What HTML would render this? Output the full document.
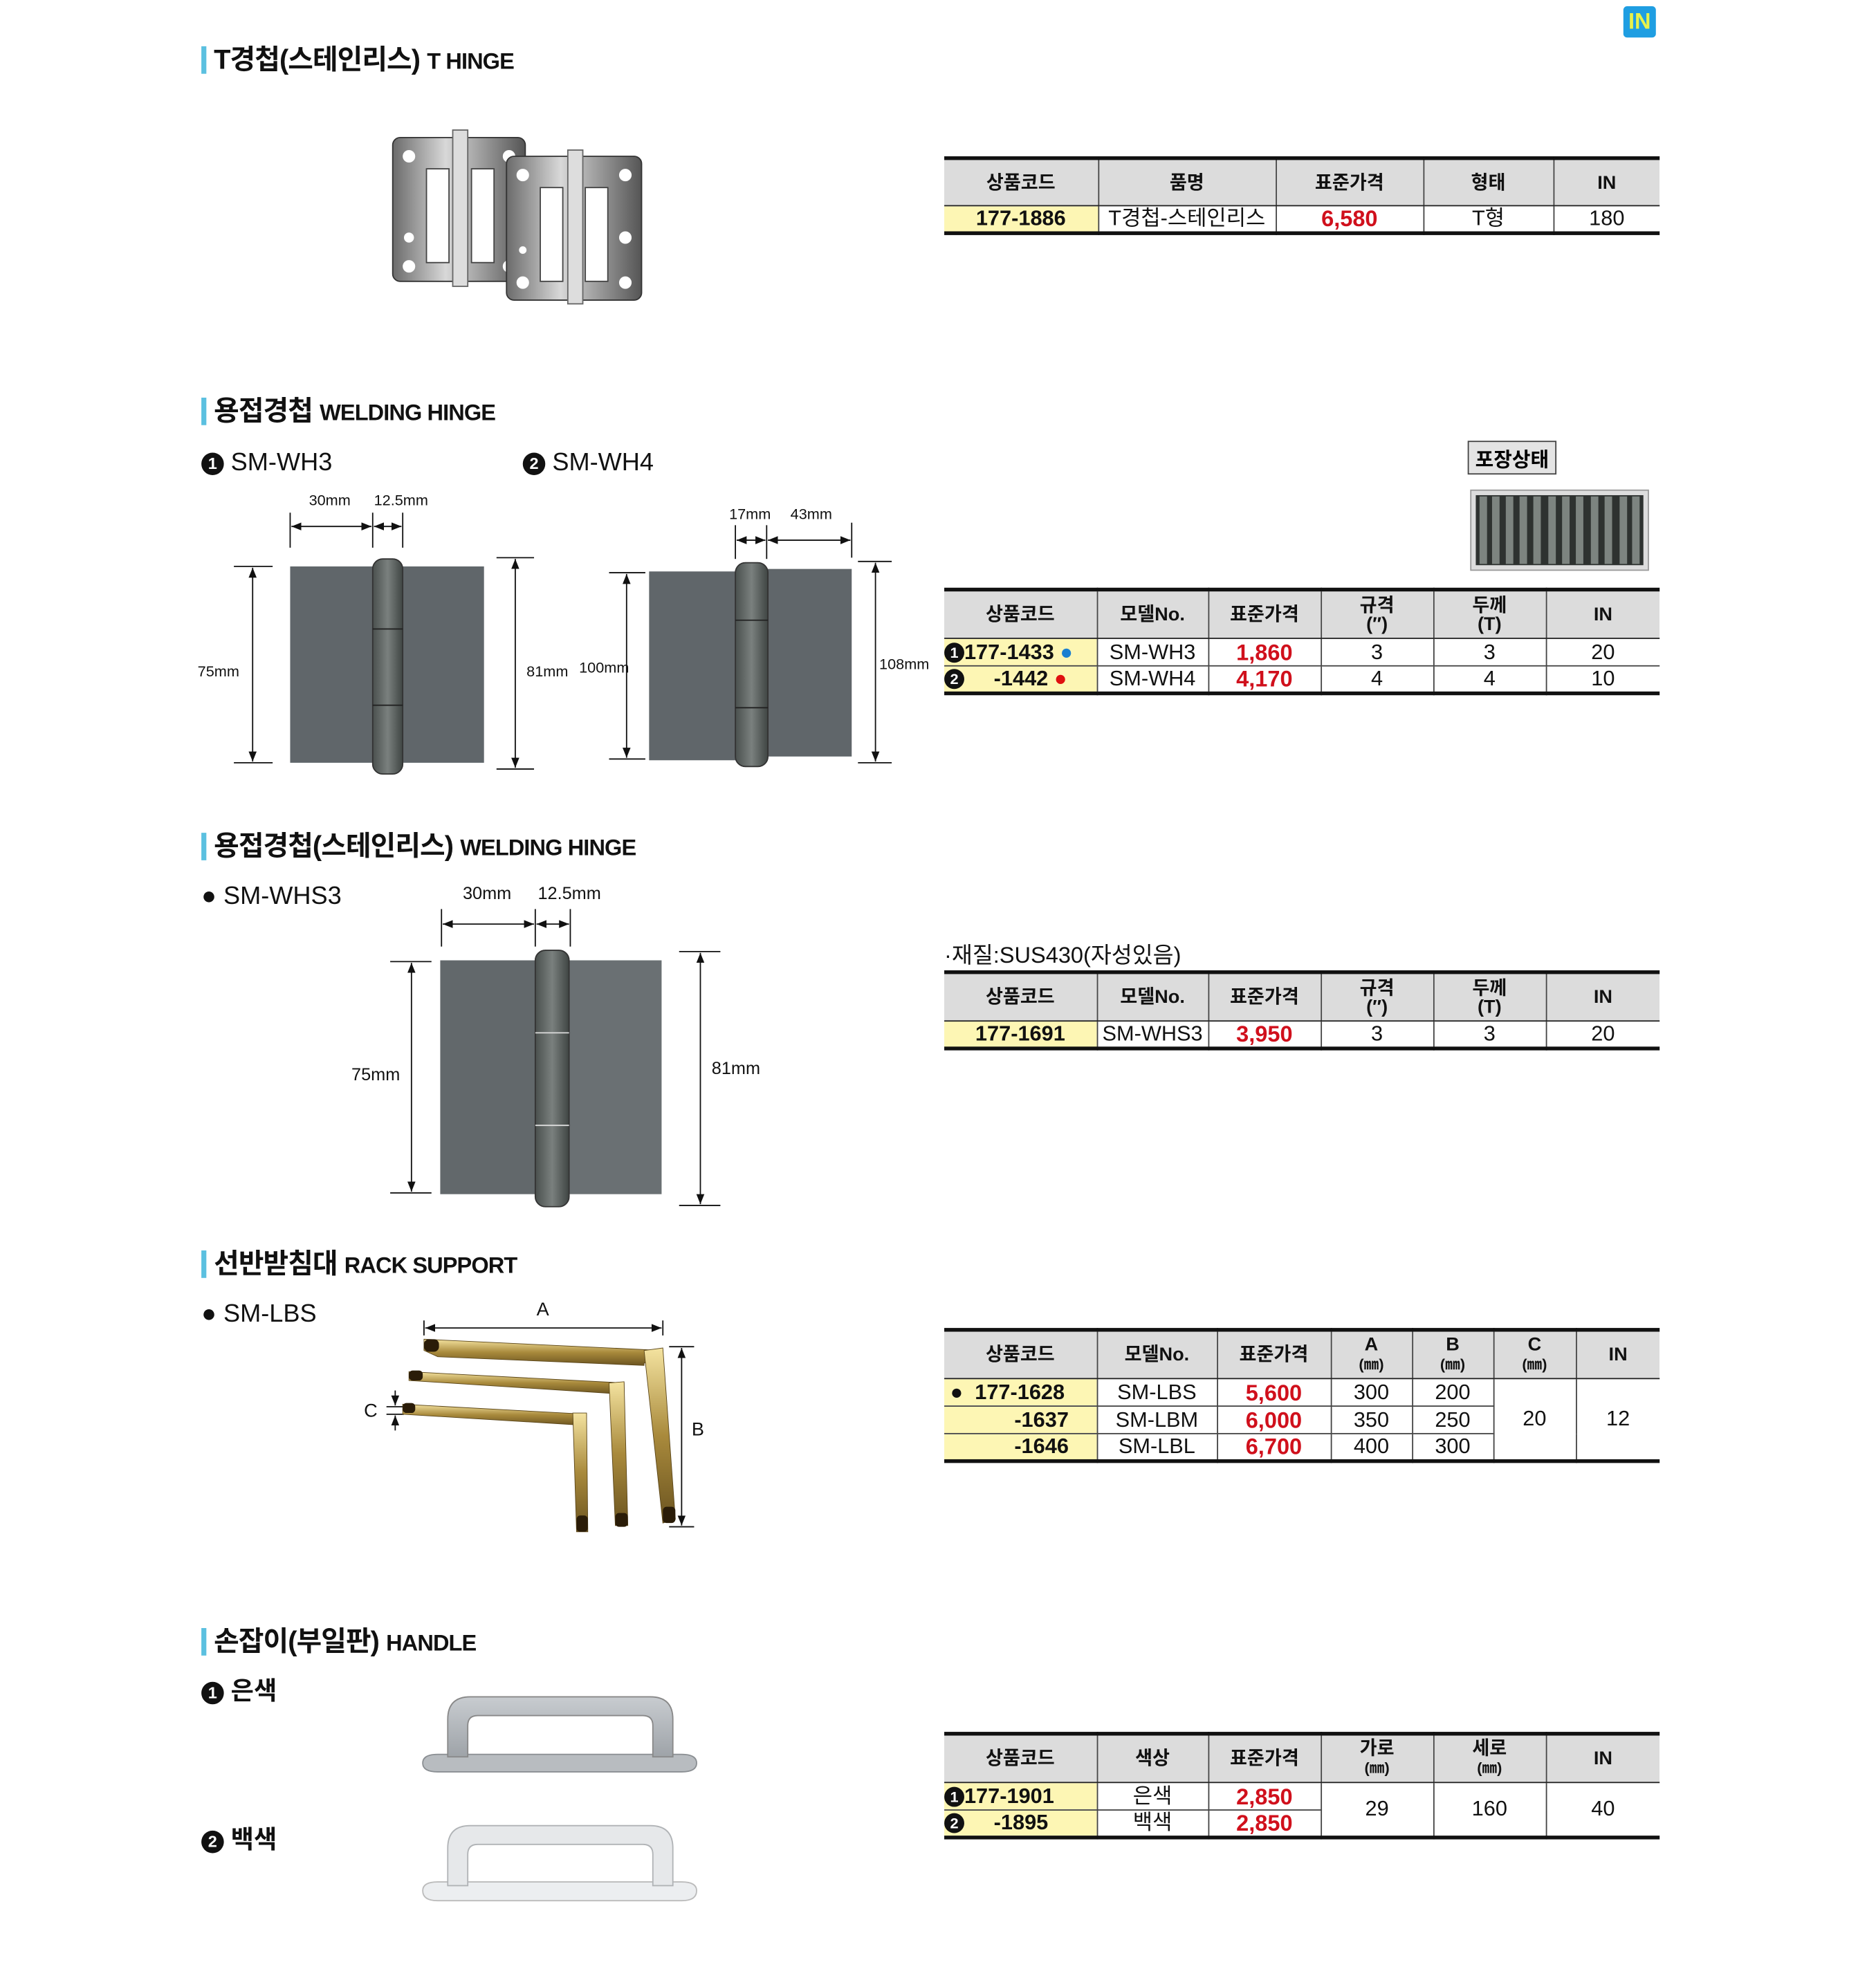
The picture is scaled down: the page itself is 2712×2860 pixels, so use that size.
<!DOCTYPE html>
<html><head><meta charset="utf-8">
<style>
html,body{margin:0;padding:0;background:#fff;}
body{width:2712px;height:2860px;overflow:hidden;position:relative;}
#w{position:absolute;left:0;top:0;width:1500px;height:1582px;transform:scale(1.808);transform-origin:0 0;font-family:"Liberation Sans","Noto Sans CJK KR",sans-serif;color:#111;}
.a{position:absolute;white-space:nowrap;}
.bar{position:absolute;width:4px;height:22px;background:#5bc0e0;}
.tt{position:absolute;font-weight:bold;font-size:22px;letter-spacing:-0.5px;line-height:26px;}
.tt span{font-size:18px;font-weight:bold;}
.sub{position:absolute;font-size:20px;line-height:24px;}
table{position:absolute;border-collapse:collapse;table-layout:fixed;font-family:"Liberation Sans","Noto Sans CJK KR",sans-serif;}
table{border-top:3px solid #111;border-bottom:3px solid #111;}
td{border-left:1px solid #444;border-right:1px solid #444;border-bottom:1px solid #444;text-align:center;padding:0;font-size:17px;line-height:20px;overflow:hidden;white-space:nowrap;}
td:first-child{border-left:none;} td:last-child{border-right:none;}
tr.h td{background:#dcdcdc;font-weight:bold;font-size:15px;line-height:15px;border-bottom:1.5px solid #222;}
td.c{background:#fdf6b4;font-weight:bold;font-size:17px;}
td.p{color:#d0101c;font-weight:bold;font-size:18px;}
.num{display:inline-block;width:16px;height:16px;border-radius:50%;background:#111;color:#fff;font-size:12px;line-height:16px;text-align:center;font-weight:bold;vertical-align:1px;}
.sm{font-size:12px;}
</style></head><body><div id="w">

<!-- IN icon -->
<div class="a" style="left:1298px;top:5px;width:26px;height:25px;background:#1f9ee2;border-radius:3px;color:#e8f24a;font-weight:bold;font-size:18px;line-height:25px;text-align:center;">IN</div>

<!-- Section titles -->
<div class="bar" style="left:161px;top:37px"></div><div class="tt" style="left:171px;top:35px">T경첩(스테인리스) <span>T HINGE</span></div>
<div class="bar" style="left:161px;top:318px"></div><div class="tt" style="left:171px;top:316px">용접경첩 <span>WELDING HINGE</span></div>
<div class="bar" style="left:161px;top:666px"></div><div class="tt" style="left:171px;top:664px">용접경첩(스테인리스) <span>WELDING HINGE</span></div>
<div class="bar" style="left:161px;top:1000px"></div><div class="tt" style="left:171px;top:998px">선반받침대 <span>RACK SUPPORT</span></div>
<div class="bar" style="left:161px;top:1302px"></div><div class="tt" style="left:171px;top:1300px">손잡이(부일판) <span>HANDLE</span></div>

<div class="sub" style="left:161px;top:358px"><span class="num" style="width:18px;height:18px;line-height:18px;font-size:13px">1</span> SM-WH3</div>
<div class="sub" style="left:418px;top:358px"><span class="num" style="width:18px;height:18px;line-height:18px;font-size:13px">2</span> SM-WH4</div>
<div class="sub" style="left:161px;top:705px">● SM-WHS3</div>
<div class="sub" style="left:161px;top:1039px">● SM-LBS</div>
<div class="sub" style="left:161px;top:1341px;font-weight:bold"><span class="num" style="width:18px;height:18px;line-height:18px;font-size:13px">1</span> 은색</div>
<div class="sub" style="left:161px;top:1460px;font-weight:bold"><span class="num" style="width:18px;height:18px;line-height:18px;font-size:13px">2</span> 백색</div>

<svg class="a" style="left:0;top:0" width="1500" height="1582" viewBox="0 0 1500 1582">
<defs>
<marker id="ar" viewBox="0 0 10 10" refX="10" refY="5" markerWidth="8" markerHeight="8" orient="auto-start-reverse"><path d="M0,1 L10,5 L0,9 z" fill="#111"/></marker>
<linearGradient id="st" x1="0" x2="1"><stop offset="0" stop-color="#6b6b6b"/><stop offset=".4" stop-color="#d8d8d8"/><stop offset="1" stop-color="#555"/></linearGradient>
<linearGradient id="kn" x1="0" x2="1"><stop offset="0" stop-color="#4a504e"/><stop offset=".5" stop-color="#7a807e"/><stop offset="1" stop-color="#3f4543"/></linearGradient>
<linearGradient id="gd" x1="0" y1="0" x2="0" y2="1"><stop offset="0" stop-color="#f4e3a0"/><stop offset=".5" stop-color="#a98a3c"/><stop offset="1" stop-color="#6b5420"/></linearGradient>
<linearGradient id="sv" x1="0" y1="0" x2="0" y2="1"><stop offset="0" stop-color="#c8ccd0"/><stop offset="1" stop-color="#9ea3a8"/></linearGradient>
</defs>

<!-- T hinges -->
<g>
<rect x="314" y="110" width="106" height="115" rx="6" fill="url(#st)" stroke="#333"/>
<rect x="341" y="135" width="18" height="75" fill="#fff" stroke="#444"/><rect x="377" y="135" width="18" height="75" fill="#fff" stroke="#444"/>
<rect x="362" y="104" width="12" height="125" fill="#ddd" stroke="#666"/>
<circle cx="327" cy="125" r="5" fill="#fff"/><circle cx="327" cy="190" r="4" fill="#fff"/><circle cx="327" cy="213" r="5" fill="#fff"/><circle cx="407" cy="125" r="5" fill="#fff"/><circle cx="407" cy="213" r="5" fill="#fff"/>
<rect x="405" y="125" width="108" height="115" rx="6" fill="url(#st)" stroke="#333"/>
<rect x="432" y="150" width="18" height="75" fill="#fff" stroke="#444"/><rect x="468" y="150" width="18" height="75" fill="#fff" stroke="#444"/>
<rect x="454" y="120" width="12" height="123" fill="#ddd" stroke="#666"/>
<circle cx="418" cy="140" r="5" fill="#fff"/><circle cx="418" cy="200" r="3" fill="#fff"/><circle cx="418" cy="226" r="5" fill="#fff"/><circle cx="500" cy="140" r="5" fill="#fff"/><circle cx="500" cy="190" r="5" fill="#fff"/><circle cx="500" cy="226" r="5" fill="#fff"/>
</g>

<!-- packaging -->
<rect x="1174" y="353" width="70" height="26" fill="#e4e4e4" stroke="#444"/>
<text x="1209" y="373" font-size="16" font-weight="bold" text-anchor="middle" font-family="Liberation Sans,Noto Sans CJK KR,sans-serif">포장상태</text>
<rect x="1176" y="392" width="142" height="64" fill="#ddd" stroke="#999"/>
<rect x="1180" y="396" width="134" height="56" fill="#2e3230"/>
<g fill="#7d8480">
<rect x="1183" y="397" width="6" height="54"/><rect x="1193" y="397" width="6" height="54"/><rect x="1204" y="397" width="6" height="54"/><rect x="1215" y="397" width="6" height="54"/><rect x="1226" y="397" width="6" height="54"/><rect x="1238" y="397" width="6" height="54"/><rect x="1249" y="397" width="6" height="54"/><rect x="1260" y="397" width="6" height="54"/><rect x="1272" y="397" width="6" height="54"/><rect x="1283" y="397" width="6" height="54"/><rect x="1295" y="397" width="6" height="54"/><rect x="1305" y="397" width="6" height="54"/>
</g>

<!-- SM-WH3 -->
<rect x="232" y="453" width="70" height="157" fill="#60666a"/><rect x="318" y="453" width="69" height="157" fill="#60666a"/>
<rect x="298" y="447" width="24" height="172" rx="8" fill="url(#kn)" stroke="#333"/>
<line x1="298" y1="503" x2="322" y2="503" stroke="#222"/><line x1="298" y1="564" x2="322" y2="564" stroke="#222"/>
<g stroke="#111" stroke-width="1" fill="none">
<line x1="232" y1="410" x2="232" y2="438"/><line x1="298" y1="410" x2="298" y2="438"/><line x1="322" y1="410" x2="322" y2="438"/>
<line x1="233" y1="421" x2="297" y2="421" marker-start="url(#ar)" marker-end="url(#ar)"/>
<line x1="299" y1="421" x2="321" y2="421" marker-start="url(#ar)" marker-end="url(#ar)"/>
<line x1="187" y1="453" x2="218" y2="453"/><line x1="187" y1="610" x2="218" y2="610"/>
<line x1="202" y1="454" x2="202" y2="609" marker-start="url(#ar)" marker-end="url(#ar)"/>
<line x1="397" y1="446" x2="427" y2="446"/><line x1="397" y1="615" x2="427" y2="615"/>
<line x1="412" y1="447" x2="412" y2="614" marker-start="url(#ar)" marker-end="url(#ar)"/>
</g>
<g font-size="12" font-family="Liberation Sans,sans-serif" fill="#111">
<text x="247" y="404">30mm</text><text x="299" y="404">12.5mm</text>
<text x="158" y="541">75mm</text><text x="421" y="541">81mm</text>
<text x="463" y="538">100mm</text><text x="703" y="535">108mm</text>
<text x="583" y="415">17mm</text><text x="632" y="415">43mm</text>
</g>

<!-- SM-WH4 -->
<rect x="519" y="457" width="70" height="151" fill="#60666a"/><rect x="610" y="455" width="71" height="150" fill="#60666a"/>
<rect x="588" y="450" width="26" height="163" rx="8" fill="url(#kn)" stroke="#333"/>
<line x1="588" y1="496" x2="614" y2="496" stroke="#222"/><line x1="588" y1="566" x2="614" y2="566" stroke="#222"/>
<g stroke="#111" stroke-width="1" fill="none">
<line x1="588" y1="420" x2="588" y2="447"/><line x1="613" y1="420" x2="613" y2="447"/><line x1="681" y1="418" x2="681" y2="446"/>
<line x1="589" y1="432" x2="612" y2="432" marker-start="url(#ar)" marker-end="url(#ar)"/>
<line x1="614" y1="432" x2="680" y2="432" marker-start="url(#ar)" marker-end="url(#ar)"/>
<line x1="487" y1="458" x2="516" y2="458"/><line x1="487" y1="607" x2="516" y2="607"/>
<line x1="501" y1="459" x2="501" y2="606" marker-start="url(#ar)" marker-end="url(#ar)"/>
<line x1="686" y1="449" x2="713" y2="449"/><line x1="686" y1="610" x2="713" y2="610"/>
<line x1="700" y1="450" x2="700" y2="609" marker-start="url(#ar)" marker-end="url(#ar)"/>
</g>

<!-- SM-WHS3 -->
<rect x="352" y="768" width="80" height="187" fill="#62686b"/><rect x="452" y="768" width="77" height="187" fill="#6a7073"/>
<rect x="428" y="760" width="27" height="205" rx="8" fill="url(#kn)" stroke="#333"/>
<line x1="428" y1="826" x2="455" y2="826" stroke="#ddd"/><line x1="428" y1="900" x2="455" y2="900" stroke="#ddd"/>
<g stroke="#111" stroke-width="1" fill="none">
<line x1="353" y1="727" x2="353" y2="757"/><line x1="428" y1="727" x2="428" y2="757"/><line x1="456" y1="727" x2="456" y2="757"/>
<line x1="354" y1="739" x2="427" y2="739" marker-start="url(#ar)" marker-end="url(#ar)"/>
<line x1="429" y1="739" x2="455" y2="739" marker-start="url(#ar)" marker-end="url(#ar)"/>
<line x1="312" y1="769" x2="345" y2="769"/><line x1="312" y1="954" x2="345" y2="954"/>
<line x1="329" y1="770" x2="329" y2="953" marker-start="url(#ar)" marker-end="url(#ar)"/>
<line x1="543" y1="761" x2="576" y2="761"/><line x1="543" y1="964" x2="576" y2="964"/>
<line x1="560" y1="762" x2="560" y2="963" marker-start="url(#ar)" marker-end="url(#ar)"/>
</g>
<g font-size="14" font-family="Liberation Sans,sans-serif" fill="#111">
<text x="370" y="719">30mm</text><text x="430" y="719">12.5mm</text>
<text x="281" y="864">75mm</text><text x="569" y="859">81mm</text>
</g>

<!-- Rack support -->
<g stroke="#111" stroke-width="1" fill="none">
<line x1="339" y1="1056" x2="339" y2="1068"/><line x1="530" y1="1056" x2="530" y2="1068"/>
<line x1="340" y1="1062" x2="529" y2="1062" marker-start="url(#ar)" marker-end="url(#ar)"/>
<line x1="535" y1="1077" x2="555" y2="1077"/><line x1="535" y1="1221" x2="555" y2="1221"/>
<line x1="545" y1="1078" x2="545" y2="1220" marker-start="url(#ar)" marker-end="url(#ar)"/>
<line x1="309" y1="1125" x2="323" y2="1125"/><line x1="309" y1="1131" x2="323" y2="1131"/>
<line x1="316" y1="1112" x2="316" y2="1124" marker-end="url(#ar)"/><line x1="316" y1="1144" x2="316" y2="1132" marker-end="url(#ar)"/>
</g>
<g font-size="15" font-family="Liberation Sans,sans-serif" fill="#111">
<text x="429" y="1052">A</text><text x="553" y="1148">B</text><text x="291" y="1133">C</text>
</g>
<g fill="url(#gd)" stroke="#5a4518" stroke-width=".5">
<path d="M339,1071 L530,1080 L530,1090 L515,1090 L515,1092 L350,1085 L339,1080 z"/>
<path d="M515,1080 L530,1078 L540,1215 L530,1218 z"/>
<path d="M327,1097 L499,1106 L499,1115 L327,1104 z"/>
<path d="M487,1106 L499,1105 L502,1220 L492,1220 z"/>
<path d="M322,1123 L469,1131 L469,1140 L322,1131 z"/>
<path d="M458,1130 L469,1130 L470,1225 L461,1225 z"/>
</g>
<g fill="#2a1c08"><rect x="339" y="1071" width="12" height="10" rx="4"/><rect x="327" y="1096" width="11" height="8" rx="3"/><rect x="322" y="1122" width="10" height="8" rx="3"/><rect x="530" y="1205" width="10" height="13" rx="3"/><rect x="492" y="1210" width="10" height="11" rx="3"/><rect x="461" y="1212" width="9" height="13" rx="3"/></g>

<!-- handles -->
<g>
<path d="M338,1410 Q338,1403 350,1403 L545,1403 Q557,1403 557,1410 Q557,1417 545,1417 L350,1417 Q338,1417 338,1410 z" fill="#b8bcc0" stroke="#8a8e92"/>
<path d="M358,1405 L358,1375 Q358,1357 376,1357 L520,1357 Q538,1357 538,1375 L538,1405 L522,1405 L522,1380 Q522,1372 514,1372 L382,1372 Q374,1372 374,1380 L374,1405 z" fill="url(#sv)" stroke="#888"/>
<path d="M338,1512 Q338,1505 350,1505 L545,1505 Q557,1505 557,1512 Q557,1520 545,1520 L350,1520 Q338,1520 338,1512 z" fill="#eceef0" stroke="#bbb"/>
<path d="M358,1508 L358,1478 Q358,1460 376,1460 L520,1460 Q538,1460 538,1478 L538,1508 L522,1508 L522,1483 Q522,1475 514,1475 L382,1475 Q374,1475 374,1483 L374,1508 z" fill="#e6e8ea" stroke="#b0b3b6"/>
</g>
</svg>

<!-- Table 1 -->
<table style="left:755px;top:125px;width:572px;">
<colgroup><col style="width:123px"><col style="width:142px"><col style="width:118px"><col style="width:104px"><col style="width:85px"></colgroup>
<tr class="h" style="height:38px"><td>상품코드</td><td>품명</td><td>표준가격</td><td>형태</td><td>IN</td></tr>
<tr style="height:22px"><td class="c">177-1886</td><td>T경첩-스테인리스</td><td class="p">6,580</td><td>T형</td><td>180</td></tr>
</table>

<!-- Table 2 -->
<table style="left:755px;top:470px;width:572px;">
<colgroup><col style="width:122px"><col style="width:89px"><col style="width:90px"><col style="width:90px"><col style="width:90px"><col style="width:91px"></colgroup>
<tr class="h" style="height:39px"><td>상품코드</td><td>모델No.</td><td>표준가격</td><td>규격<br>(″)</td><td>두께<br>(T)</td><td>IN</td></tr>
<tr style="height:22px"><td class="c" style="text-align:left"><span class="num">1</span>177-1433 <span style="color:#1a7fd0">●</span></td><td>SM-WH3</td><td class="p">1,860</td><td>3</td><td>3</td><td>20</td></tr>
<tr style="height:22px"><td class="c" style="text-align:left"><span class="num">2</span>&nbsp;&nbsp;&nbsp;&nbsp;&nbsp;-1442 <span style="color:#e01010">●</span></td><td>SM-WH4</td><td class="p">4,170</td><td>4</td><td>4</td><td>10</td></tr>
</table>

<!-- Table 3 -->
<div class="a" style="left:755px;top:750px;font-size:18px;">·재질:SUS430(자성있음)</div>
<table style="left:755px;top:776px;width:572px;">
<colgroup><col style="width:122px"><col style="width:89px"><col style="width:90px"><col style="width:90px"><col style="width:90px"><col style="width:91px"></colgroup>
<tr class="h" style="height:39px"><td>상품코드</td><td>모델No.</td><td>표준가격</td><td>규격<br>(″)</td><td>두께<br>(T)</td><td>IN</td></tr>
<tr style="height:22px"><td class="c">177-1691</td><td>SM-WHS3</td><td class="p">3,950</td><td>3</td><td>3</td><td>20</td></tr>
</table>

<!-- Table 4 -->
<table style="left:755px;top:1062px;width:572px;">
<colgroup><col style="width:122px"><col style="width:96px"><col style="width:91px"><col style="width:65px"><col style="width:65px"><col style="width:66px"><col style="width:67px"></colgroup>
<tr class="h" style="height:39px"><td>상품코드</td><td>모델No.</td><td>표준가격</td><td>A<br><span class="sm">(㎜)</span></td><td>B<br><span class="sm">(㎜)</span></td><td>C<br><span class="sm">(㎜)</span></td><td>IN</td></tr>
<tr style="height:22px"><td class="c" style="text-align:left">&nbsp;●&nbsp;&nbsp;177-1628</td><td>SM-LBS</td><td class="p">5,600</td><td>300</td><td>200</td><td rowspan="3">20</td><td rowspan="3">12</td></tr>
<tr style="height:22px"><td class="c" style="text-align:right;padding-right:22px">-1637</td><td>SM-LBM</td><td class="p">6,000</td><td>350</td><td>250</td></tr>
<tr style="height:22px"><td class="c" style="text-align:right;padding-right:22px">-1646</td><td>SM-LBL</td><td class="p">6,700</td><td>400</td><td>300</td></tr>
</table>

<!-- Table 5 -->
<table style="left:755px;top:1385px;width:572px;">
<colgroup><col style="width:122px"><col style="width:89px"><col style="width:90px"><col style="width:90px"><col style="width:90px"><col style="width:91px"></colgroup>
<tr class="h" style="height:39px"><td>상품코드</td><td>색상</td><td>표준가격</td><td>가로<br><span class="sm">(㎜)</span></td><td>세로<br><span class="sm">(㎜)</span></td><td>IN</td></tr>
<tr style="height:22px"><td class="c" style="text-align:left"><span class="num">1</span>177-1901</td><td>은색</td><td class="p">2,850</td><td rowspan="2">29</td><td rowspan="2">160</td><td rowspan="2">40</td></tr>
<tr style="height:22px"><td class="c" style="text-align:left"><span class="num">2</span>&nbsp;&nbsp;&nbsp;&nbsp;&nbsp;-1895</td><td>백색</td><td class="p">2,850</td></tr>
</table>

</div></body></html>
